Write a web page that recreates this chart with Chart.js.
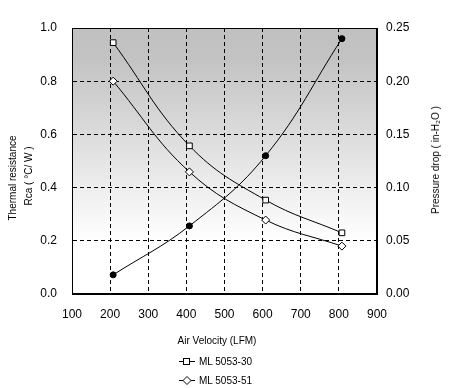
<!DOCTYPE html>
<html>
<head>
<meta charset="utf-8">
<script src="https://cdn.jsdelivr.net/npm/chart.js@4/dist/chart.umd.min.js"></script>
<style>
  html, body { margin: 0; padding: 0; background: #fff; }
  #wrap { position: relative; width: 453px; height: 388px; }
  canvas { position: absolute; left: 0; top: 0; }
  .leg { position: absolute; left: 179px; font: 10px "Liberation Sans", Arial, sans-serif; color: #000; display: flex; align-items: center; height: 12px; }
  .leg svg { margin-right: 4px; }
  .ttl { position: absolute; font: 10px "Liberation Sans", Arial, sans-serif; color: #000; white-space: nowrap; line-height: 12px; transform: translate(-50%, -50%); }
  .rot { transform: translate(-50%, -50%) rotate(-90deg); }
</style>
</head>
<body>
<div id="wrap">
  <canvas id="c" width="453" height="388"></canvas>
  <div class="ttl" id="tx" style="left:217px; top:341px;"></div>
  <div class="ttl rot" id="ty1" style="left:13px; top:178px;"></div>
  <div class="ttl rot" id="ty2" style="left:29px; top:176px;"></div>
  <div class="ttl rot" id="ty3" style="left:436px; top:160px;"></div>
  <div class="leg" style="top:355px;"><svg width="16" height="9"><line x1="0" y1="4.5" x2="16" y2="4.5" stroke="#000" stroke-width="1"/><rect x="4.5" y="1.5" width="6" height="6" fill="#fff" stroke="#000" stroke-width="1"/></svg><span id="l1"></span></div>
  <div class="leg" style="top:374px;"><svg width="16" height="9"><line x1="0" y1="4.5" x2="16" y2="4.5" stroke="#000" stroke-width="1"/><polygon points="8,0.5 12,4.5 8,8.5 4,4.5" fill="#fff" stroke="#000" stroke-width="1"/></svg><span id="l2"></span></div>
</div>
<script>
const velocities = [208, 408, 608, 808];
const seriesNames = ["ML 5053-30", "ML 5053-51"];
const resistance30 = [0.945, 0.557, 0.353, 0.230];
const resistance51 = [0.800, 0.459, 0.278, 0.180];
const pressureDrop = [0.018, 0.064, 0.130, 0.240];
const xTicks = [100, 200, 300, 400, 500, 600, 700, 800, 900];
const yTicks = [0.0, 0.2, 0.4, 0.6, 0.8, 1.0];
const y2Ticks = [0.00, 0.05, 0.10, 0.15, 0.20, 0.25];
const xTitle = "Air Velocity (LFM)";
const yTitle = ["Thermal resistance", "Rca ( °C/ W )"];
const y2Title = "Pressure drop  ( in-H₂O )";

document.getElementById('l1').textContent = seriesNames[0];
document.getElementById('l2').textContent = seriesNames[1];
document.getElementById('tx').textContent = xTitle;
document.getElementById('ty1').textContent = yTitle[0];
document.getElementById('ty2').textContent = yTitle[1];
document.getElementById('ty3').textContent = y2Title;

const toPts = (ys) => velocities.map((x, i) => ({ x, y: ys[i] }));
const FONT = '"Liberation Sans", Arial, sans-serif';

const bgPlugin = {
  id: 'bg',
  beforeDraw(chart) {
    const { ctx, chartArea: a } = chart;
    const g = ctx.createLinearGradient(0, a.top, 0, a.bottom);
    g.addColorStop(0, '#c0c0c0');
    g.addColorStop(0.12, '#c3c3c3');
    g.addColorStop(0.8, '#ffffff');
    g.addColorStop(1, '#ffffff');
    ctx.save();
    ctx.fillStyle = g;
    ctx.fillRect(a.left, a.top, a.right - a.left, a.bottom - a.top);
    ctx.restore();
  },
  beforeDatasetsDraw(chart) {
    const { ctx, chartArea: a } = chart;
    ctx.save();
    ctx.strokeStyle = '#000';
    ctx.lineWidth = 1;
    ctx.setLineDash([]);
    ctx.strokeRect(Math.round(a.left) + 0.5, Math.round(a.top) + 0.5, Math.round(a.right - a.left) - 1, Math.round(a.bottom - a.top) - 1);
    ctx.restore();
  }
};

new Chart(document.getElementById('c'), {
  type: 'line',
  data: {
    datasets: [
      { label: seriesNames[0], data: toPts(resistance30), yAxisID: 'y', borderColor: '#000', borderWidth: 1, tension: 0.4,
        pointStyle: 'rect', pointRadius: 4, pointBackgroundColor: '#fff', pointBorderColor: '#000', pointBorderWidth: 1 },
      { label: seriesNames[1], data: toPts(resistance51), yAxisID: 'y', borderColor: '#000', borderWidth: 1, tension: 0.4,
        pointStyle: 'rectRot', pointRadius: 4, pointBackgroundColor: '#fff', pointBorderColor: '#000', pointBorderWidth: 1 },
      { label: 'Pressure drop', data: toPts(pressureDrop), yAxisID: 'y2', borderColor: '#000', borderWidth: 1, tension: 0.4,
        pointStyle: 'circle', pointRadius: 3, pointBackgroundColor: '#000', pointBorderColor: '#000', pointBorderWidth: 1 }
    ]
  },
  options: {
    responsive: false,
    animation: false,
    layout: { padding: { top: 28, bottom: 38, left: 0, right: 0 } },
    plugins: { legend: { display: false }, tooltip: { enabled: false } },
    scales: {
      x: {
        type: 'linear', min: 100, max: 900,
        afterBuildTicks: (s) => { s.ticks = xTicks.map(v => ({ value: v })); },
        afterFit: (s) => { s.height = 56; },
        ticks: { color: '#000', padding: 13, font: { family: FONT, size: 12 } },
        grid: { color: '#000', lineWidth: 1, drawTicks: false },
        border: { display: true, color: '#000', dash: [4, 3] },
        title: { display: false }
      },
      y: {
        position: 'left', min: 0, max: 1,
        afterBuildTicks: (s) => { s.ticks = yTicks.map(v => ({ value: v })); },
        afterFit: (s) => { s.width = 72; },
        ticks: { color: '#000', padding: 15, font: { family: FONT, size: 12 }, callback: (v) => Number(v).toFixed(1) },
        grid: { color: '#000', lineWidth: 1, drawTicks: false },
        border: { display: true, color: '#000', dash: [4, 3] },
        title: { display: false }
      },
      y2: {
        position: 'right', min: 0, max: 0.25,
        afterBuildTicks: (s) => { s.ticks = y2Ticks.map(v => ({ value: v })); },
        afterFit: (s) => { s.width = 76; },
        ticks: { color: '#000', padding: 9, font: { family: FONT, size: 12 }, callback: (v) => Number(v).toFixed(2) },
        grid: { display: false, drawTicks: false },
        border: { display: true, color: '#000' },
        title: { display: false }
      }
    }
  },
  plugins: [bgPlugin]
});
</script>
</body>
</html>
